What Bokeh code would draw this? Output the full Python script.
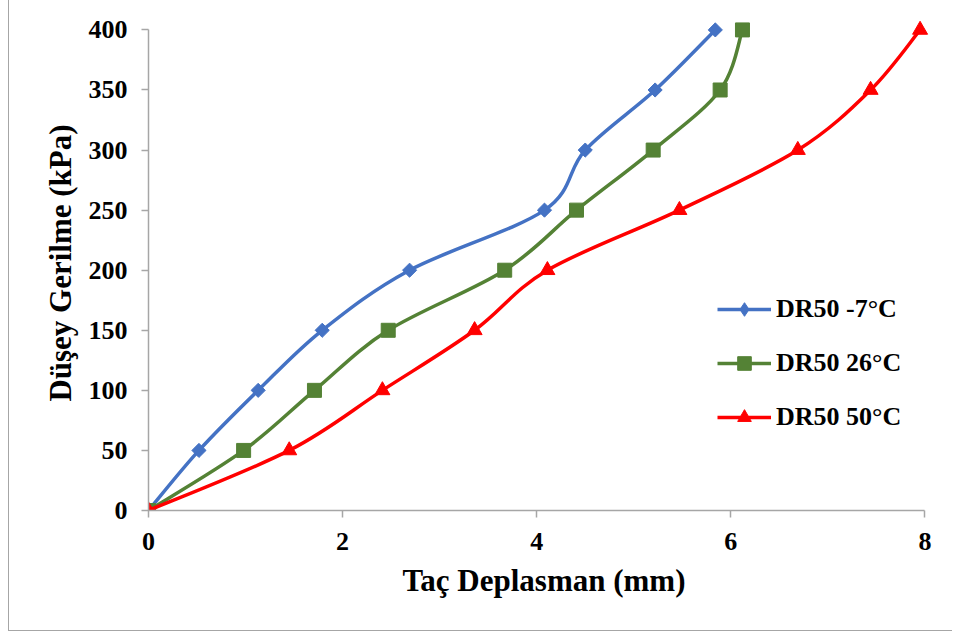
import numpy as np
from bokeh.plotting import figure
from bokeh.models import ColumnDataSource, Legend, LegendItem, Range1d, FixedTicker
from bokeh.embed import file_html
from bokeh.resources import INLINE

# ---- data ----
stress = [0, 50, 100, 150, 200, 250, 300, 350, 400]
disp_m7 = [0, 0.52, 1.13, 1.79, 2.69, 4.08, 4.50, 5.22, 5.84]
disp_26 = [0, 0.98, 1.71, 2.47, 3.67, 4.41, 5.20, 5.89, 6.12]
disp_50 = [0, 1.45, 2.41, 3.36, 4.11, 5.47, 6.69, 7.44, 7.95]
labels = ["DR50 -7°C", "DR50 26°C", "DR50 50°C"]
x_ticks = [0, 2, 4, 6, 8]
y_ticks = [0, 50, 100, 150, 200, 250, 300, 350, 400]

colors = ["#4472C4", "#548235", "#FF0000"]
markers = ["square", "square", "triangle"]
legend_markers = ["diamond", "square", "triangle"]
angles = [np.pi / 4, 0, 0]
sizes = [10, 14, 15]

FONT = "Liberation Serif"


def smooth_segments(xs, ys):
    """Catmull-Rom style Bezier segments (like a spreadsheet 'smoothed line')."""
    x = np.asarray(xs, float)
    y = np.asarray(ys, float)
    n = len(x)
    xp = np.concatenate([[x[0]], x, [x[-1]]])
    yp = np.concatenate([[y[0]], y, [y[-1]]])
    d = dict(x0=[], y0=[], x1=[], y1=[], cx0=[], cy0=[], cx1=[], cy1=[])
    for i in range(n - 1):
        j = i + 1
        d["x0"].append(x[i]); d["y0"].append(y[i])
        d["x1"].append(x[i + 1]); d["y1"].append(y[i + 1])
        d["cx0"].append(x[i] + (xp[j + 1] - xp[j - 1]) / 6)
        d["cy0"].append(y[i] + (yp[j + 1] - yp[j - 1]) / 6)
        d["cx1"].append(x[i + 1] - (xp[j + 2] - xp[j]) / 6)
        d["cy1"].append(y[i + 1] - (yp[j + 2] - yp[j]) / 6)
    return d


p = figure(width=944, height=631, output_backend="svg", toolbar_location=None,
           x_range=Range1d(0, 8.15), y_range=Range1d(0, 412),
           min_border_left=139, min_border_right=14,
           min_border_top=15, min_border_bottom=121)
p.outline_line_color = None
p.grid.visible = False
p.background_fill_color = "white"
p.border_fill_color = "white"
p.styles = {"margin-left": "8px",
            "border-left": "1px solid #A6A6A6", "border-bottom": "1px solid #A6A6A6"}

for ax in (p.xaxis[0], p.yaxis[0]):
    ax.axis_line_color = "#A6A6A6"
    ax.axis_line_width = 1.5
    ax.major_tick_line_color = "#A6A6A6"
    ax.major_tick_line_width = 1.5
    ax.major_tick_in = 0
    ax.major_tick_out = 7
    ax.minor_tick_line_color = None
    ax.major_label_text_font = FONT
    ax.major_label_text_font_style = "bold"
    ax.major_label_text_font_size = "26px"
    ax.major_label_text_color = "black"
    ax.axis_label_text_font = FONT
    ax.axis_label_text_font_style = "bold"
    ax.axis_label_text_font_size = "31px"
    ax.axis_label_text_color = "black"

p.xaxis.ticker = FixedTicker(ticks=x_ticks)
p.yaxis.ticker = FixedTicker(ticks=y_ticks)
p.xaxis.bounds = (x_ticks[0], x_ticks[-1])
p.yaxis.bounds = (y_ticks[0], y_ticks[-1])
p.xaxis.axis_label = "Taç Deplasman (mm)"
p.yaxis.axis_label = "Düşey Gerilme (kPa)"
p.xaxis.major_label_standoff = 15
p.yaxis.major_label_standoff = 14
p.xaxis.axis_label_standoff = 10
p.yaxis.axis_label_standoff = 8

items = []
for xs, c, mk, lmk, ang, sz, lab in zip([disp_m7, disp_26, disp_50], colors, markers,
                                        legend_markers, angles, sizes, labels):
    src = ColumnDataSource(smooth_segments(xs, stress))
    p.bezier(x0="x0", y0="y0", x1="x1", y1="y1", cx0="cx0", cy0="cy0",
             cx1="cx1", cy1="cy1", source=src, line_color=c, line_width=3.5)
    p.scatter(x=xs, y=stress, marker=mk, size=sz, angle=ang,
              fill_color=c, line_color=c)
    # legend-only renderers (hidden in the plot area)
    leg_line = p.line(x=xs, y=stress, line_color=c, line_width=3.5, visible=False)
    leg_mk = p.scatter(x=xs, y=stress, marker=lmk, fill_color=c, line_color=c,
                       visible=False)
    items.append(LegendItem(label=lab, renderers=[leg_line, leg_mk]))

legend = Legend(items=items, location=(569, 76), orientation="vertical",
                border_line_color=None, background_fill_alpha=0,
                inactive_fill_alpha=0,
                label_text_font=FONT, label_text_font_style="bold",
                label_text_font_size="26px", label_text_color="black",
                glyph_width=54, glyph_height=34, label_height=30,
                label_standoff=5, spacing=20, padding=0, margin=0)
p.add_layout(legend)

open("out.html", "w").write(file_html(p, INLINE))
